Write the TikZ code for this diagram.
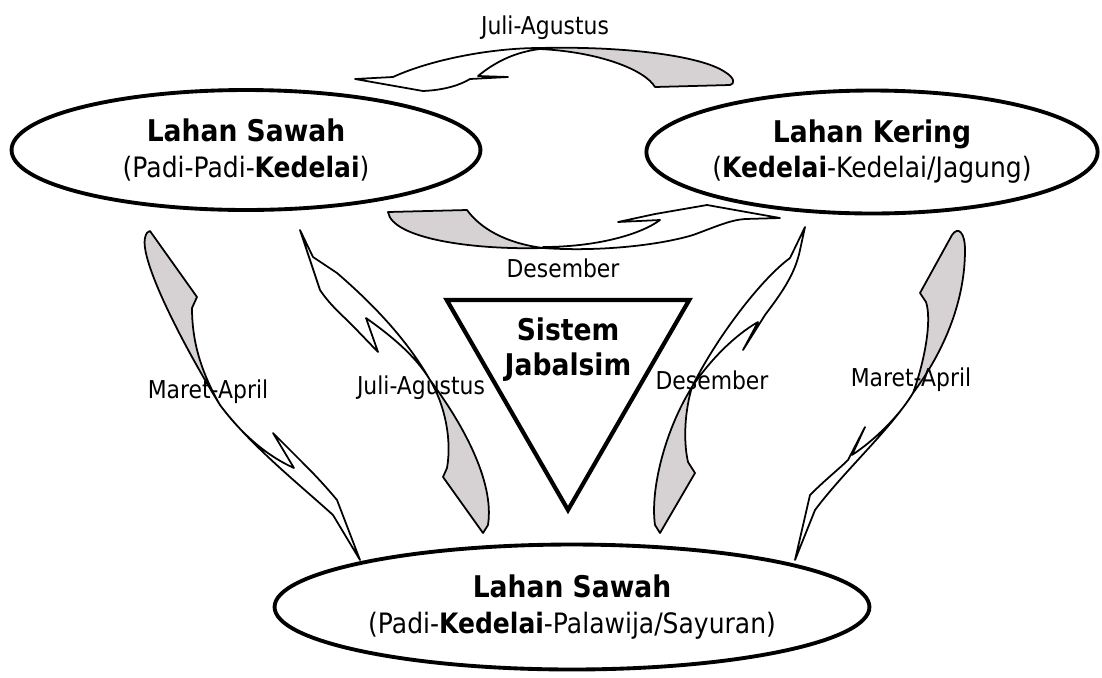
\documentclass[tikz,border=0pt]{standalone}
\usepackage{fontspec}
\setmainfont{DejaVu Sans}[FakeStretch=0.89]
\usetikzlibrary{shapes.geometric}
\definecolor{tailgray}{RGB}{214,209,211}
\newcommand{\fieldtitle}[1]{{\fontsize{17}{20}\selectfont\bfseries #1}}

\tikzset{
  field/.style={ellipse, draw, line width=2.2pt, align=center, inner sep=0pt,
                font=\fontsize{16}{20}\selectfont},
  season/.style={font=\fontsize{14}{16}\selectfont, inner sep=1pt},
  tail/.style={draw, line width=1pt, fill=tailgray, line join=round},
  head/.style={draw, line width=1pt, fill=white, line join=round},
}

\begin{document}
\begin{tikzpicture}[x=0.02cm, y=-0.02cm]
  \useasboundingbox (0,0) rectangle (1102,677);

  % top arrow, Lahan Kering -> Lahan Sawah
  \path[head] (540,48) .. controls (490,48) and (430,60) .. (393,77) -- (355,79)
     -- (423,91) .. controls (445,90) and (460,85) .. (470,79) -- (508,77)
     -- (478,76) .. controls (495,62) and (515,52) .. (540,49) -- cycle;
  \path[tail] (540,48) .. controls (620,46) and (700,55) .. (725,72)
     .. controls (735,78) and (735,84) .. (730,85) -- (655,87)
     .. controls (645,70) and (600,52) .. (540,49) -- cycle;

  % middle arrow, Lahan Sawah -> Lahan Kering
  \path[head] (543,248) .. controls (600,252) and (660,245) .. (693,235)
     .. controls (715,227) and (730,220) .. (745,219) -- (780,218) -- (707,205)
     -- (655,214) -- (618,222) -- (660,220)
     .. controls (640,235) and (595,247) .. (543,247) -- cycle;
  \path[tail] (388,212) -- (467,210) .. controls (480,228) and (505,243) .. (543,248)
     .. controls (470,250) and (392,238) .. (388,212) -- cycle;

  % left pair
  \path[head] (220,405) .. controls (250,445) and (300,485) .. (333,515) -- (360,560)
     -- (337,500) .. controls (322,482) and (310,470) .. (302,462) -- (273,433)
     -- (294,468) .. controls (265,455) and (240,432) .. (220,405) -- cycle;
  \path[tail] (150,231) -- (197,297) -- (192,308) .. controls (192,340) and (200,370) .. (220,405)
     .. controls (180,340) and (140,260) .. (145,238) .. controls (146,233) and (148,231) .. (150,231) -- cycle;
  \path[head] (430,380) .. controls (410,345) and (380,310) .. (337,273) -- (313,257)
     -- (300,230) -- (320,290) .. controls (330,305) and (342,315) .. (352,325)
     -- (378,352) -- (366,318) .. controls (390,335) and (415,355) .. (430,380) -- cycle;
  \path[tail] (430,380) .. controls (460,420) and (495,480) .. (488,525) -- (483,533)
     -- (443,477) -- (447,468) .. controls (452,440) and (445,405) .. (430,380) -- cycle;

  % right pair
  \path[head] (692,387) .. controls (715,340) and (760,280) .. (790,258) -- (805,227)
     -- (800,250) .. controls (795,275) and (780,295) .. (765,315) -- (743,350)
     -- (758,322) .. controls (735,335) and (710,360) .. (692,387) -- cycle;
  \path[tail] (692,387) .. controls (665,430) and (650,490) .. (655,525) -- (660,533)
     -- (695,473) -- (688,462) .. controls (683,440) and (685,410) .. (692,387) -- cycle;
  \path[head] (913,393) .. controls (890,430) and (845,470) .. (815,510) -- (795,560)
     -- (810,495) .. controls (825,480) and (840,468) .. (848,460) -- (865,427)
     -- (852,455) .. controls (875,440) and (900,415) .. (913,393) -- cycle;
  \path[tail] (920,293) -- (952,235) .. controls (958,226) and (965,232) .. (965,250)
     .. controls (965,300) and (945,350) .. (913,393)
     .. controls (925,360) and (932,320) .. (926,302) -- cycle;

  \node[field, minimum width=9.38cm, minimum height=2.4cm] (sawah) at (246,150)
    {\fieldtitle{Lahan Sawah}\\(Padi-Padi-\textbf{Kedelai})};
  \node[field, minimum width=9.02cm, minimum height=2.46cm] (kering) at (872,152)
    {\fieldtitle{Lahan Kering}\\(\textbf{Kedelai}-Kedelai/Jagung)};
  \node[field, minimum width=11.9cm, minimum height=2.5cm] (irigasi) at (572,607)
    {\fieldtitle{Lahan Sawah}\\(Padi-\textbf{Kedelai}-Palawija/Sayuran)};

  \node[regular polygon, regular polygon sides=3, shape border rotate=180, draw,
        line width=2.4pt, minimum size=5.6cm, line join=miter] (jabal) at (568,370) {};
  \node[align=center, font=\fontsize{17}{20}\selectfont\bfseries] (sistem) at (568,350)
    {Sistem\\Jabalsim};

  \node[season] (jaTop)   at (545,28)  {Juli-Agustus};
  \node[season] (desMid)  at (563,268) {Desember};
  \node[season] (maLeft)  at (208,392) {Maret-April};
  \node[season] (jaLeft)  at (421,388) {Juli-Agustus};
  \node[season] (desRight) at (712,380) {Desember};
  \node[season] (maRight) at (911,380) {Maret-April};
\end{tikzpicture}
\end{document}
